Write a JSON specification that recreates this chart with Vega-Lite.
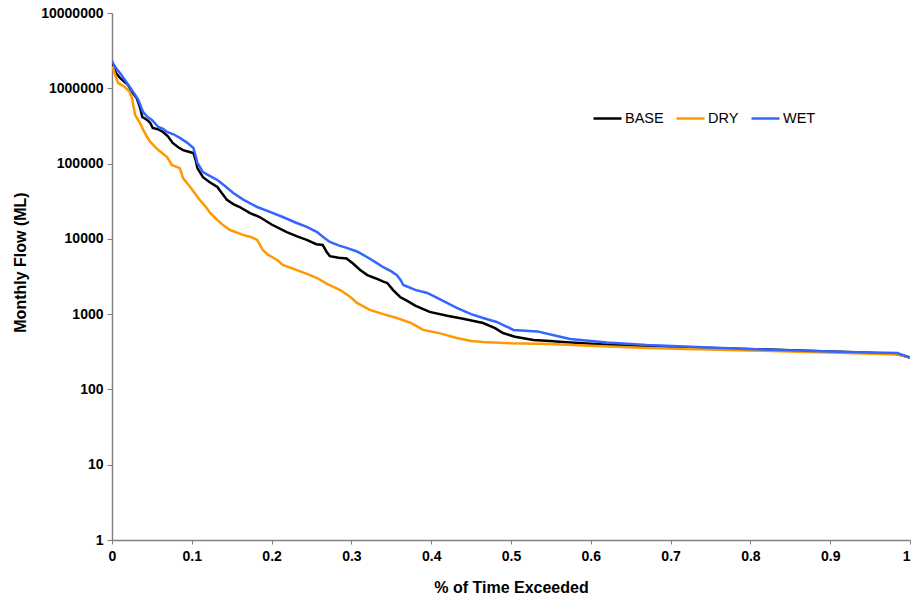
{
  "$schema": "https://vega.github.io/schema/vega-lite/v6.json",
  "width": 798,
  "height": 527,
  "autosize": "none",
  "padding": {"left": 112, "top": 13, "right": 3, "bottom": 62},
  "background": "white",
  "config": {
    "view": {"stroke": null},
    "font": "Liberation Sans",
    "axis": {
      "grid": false,
      "domainColor": "#808080",
      "tickColor": "#808080",
      "domainWidth": 1.5,
      "labelFont": "Liberation Sans",
      "labelFontWeight": "bold",
      "labelFontSize": 14,
      "labelColor": "#000000",
      "titleFont": "Liberation Sans",
      "titleFontWeight": "bold",
      "titleFontSize": 16,
      "titleColor": "#000000"
    }
  },
  "data": {
    "values": [
      {"s":"BASE","x":0,"y":2200000},{"s":"BASE","x":0.001,"y":2040000},{"s":"BASE","x":0.005,"y":1600000},{"s":"BASE","x":0.01,"y":1370000},{"s":"BASE","x":0.02,"y":1110000},{"s":"BASE","x":0.025,"y":900000},{"s":"BASE","x":0.031,"y":740000},{"s":"BASE","x":0.035,"y":560000},{"s":"BASE","x":0.038,"y":416000},{"s":"BASE","x":0.044,"y":380000},{"s":"BASE","x":0.048,"y":346000},{"s":"BASE","x":0.051,"y":297000},{"s":"BASE","x":0.058,"y":285000},{"s":"BASE","x":0.064,"y":263000},{"s":"BASE","x":0.07,"y":230000},{"s":"BASE","x":0.076,"y":188000},{"s":"BASE","x":0.083,"y":165000},{"s":"BASE","x":0.089,"y":151000},{"s":"BASE","x":0.095,"y":145000},{"s":"BASE","x":0.102,"y":138000},{"s":"BASE","x":0.105,"y":110000},{"s":"BASE","x":0.107,"y":87000},{"s":"BASE","x":0.114,"y":66000},{"s":"BASE","x":0.122,"y":57000},{"s":"BASE","x":0.132,"y":49000},{"s":"BASE","x":0.138,"y":40000},{"s":"BASE","x":0.144,"y":33000},{"s":"BASE","x":0.152,"y":29000},{"s":"BASE","x":0.16,"y":26500},{"s":"BASE","x":0.173,"y":22000},{"s":"BASE","x":0.185,"y":19500},{"s":"BASE","x":0.2,"y":15500},{"s":"BASE","x":0.219,"y":12300},{"s":"BASE","x":0.232,"y":10800},{"s":"BASE","x":0.244,"y":9700},{"s":"BASE","x":0.256,"y":8500},{"s":"BASE","x":0.264,"y":8300},{"s":"BASE","x":0.269,"y":6700},{"s":"BASE","x":0.273,"y":5900},{"s":"BASE","x":0.284,"y":5600},{"s":"BASE","x":0.294,"y":5500},{"s":"BASE","x":0.302,"y":4700},{"s":"BASE","x":0.311,"y":3860},{"s":"BASE","x":0.32,"y":3300},{"s":"BASE","x":0.33,"y":3000},{"s":"BASE","x":0.34,"y":2700},{"s":"BASE","x":0.345,"y":2590},{"s":"BASE","x":0.352,"y":2100},{"s":"BASE","x":0.361,"y":1690},{"s":"BASE","x":0.37,"y":1500},{"s":"BASE","x":0.38,"y":1300},{"s":"BASE","x":0.398,"y":1070},{"s":"BASE","x":0.42,"y":950},{"s":"BASE","x":0.44,"y":870},{"s":"BASE","x":0.465,"y":763},{"s":"BASE","x":0.48,"y":650},{"s":"BASE","x":0.49,"y":562},{"s":"BASE","x":0.505,"y":500},{"s":"BASE","x":0.528,"y":454},{"s":"BASE","x":0.549,"y":441},{"s":"BASE","x":0.565,"y":427},{"s":"BASE","x":0.6,"y":405},{"s":"BASE","x":0.628,"y":389},{"s":"BASE","x":0.7,"y":365},{"s":"BASE","x":0.796,"y":345},{"s":"BASE","x":0.86,"y":330},{"s":"BASE","x":0.921,"y":314},{"s":"BASE","x":0.984,"y":296},{"s":"BASE","x":1,"y":265},
      {"s":"DRY","x":0,"y":1950000},{"s":"DRY","x":0.001,"y":1920000},{"s":"DRY","x":0.004,"y":1500000},{"s":"DRY","x":0.0075,"y":1180000},{"s":"DRY","x":0.016,"y":1040000},{"s":"DRY","x":0.022,"y":900000},{"s":"DRY","x":0.025,"y":740000},{"s":"DRY","x":0.029,"y":442000},{"s":"DRY","x":0.035,"y":346000},{"s":"DRY","x":0.04,"y":270000},{"s":"DRY","x":0.044,"y":225000},{"s":"DRY","x":0.048,"y":194000},{"s":"DRY","x":0.058,"y":151000},{"s":"DRY","x":0.064,"y":135000},{"s":"DRY","x":0.069,"y":122000},{"s":"DRY","x":0.075,"y":96000},{"s":"DRY","x":0.085,"y":87000},{"s":"DRY","x":0.089,"y":64000},{"s":"DRY","x":0.098,"y":49000},{"s":"DRY","x":0.11,"y":32800},{"s":"DRY","x":0.117,"y":27000},{"s":"DRY","x":0.123,"y":22100},{"s":"DRY","x":0.132,"y":17800},{"s":"DRY","x":0.14,"y":15000},{"s":"DRY","x":0.148,"y":13100},{"s":"DRY","x":0.164,"y":11300},{"s":"DRY","x":0.175,"y":10500},{"s":"DRY","x":0.182,"y":9700},{"s":"DRY","x":0.189,"y":7100},{"s":"DRY","x":0.195,"y":6200},{"s":"DRY","x":0.207,"y":5240},{"s":"DRY","x":0.214,"y":4500},{"s":"DRY","x":0.23,"y":3900},{"s":"DRY","x":0.245,"y":3400},{"s":"DRY","x":0.257,"y":3020},{"s":"DRY","x":0.27,"y":2500},{"s":"DRY","x":0.286,"y":2090},{"s":"DRY","x":0.3,"y":1650},{"s":"DRY","x":0.307,"y":1410},{"s":"DRY","x":0.323,"y":1140},{"s":"DRY","x":0.34,"y":1000},{"s":"DRY","x":0.357,"y":889},{"s":"DRY","x":0.375,"y":760},{"s":"DRY","x":0.39,"y":617},{"s":"DRY","x":0.41,"y":560},{"s":"DRY","x":0.432,"y":482},{"s":"DRY","x":0.45,"y":440},{"s":"DRY","x":0.465,"y":427},{"s":"DRY","x":0.5,"y":410},{"s":"DRY","x":0.549,"y":402},{"s":"DRY","x":0.6,"y":380},{"s":"DRY","x":0.67,"y":356},{"s":"DRY","x":0.796,"y":330},{"s":"DRY","x":0.921,"y":305},{"s":"DRY","x":0.984,"y":290},{"s":"DRY","x":1,"y":265},
      {"s":"WET","x":0,"y":2300000},{"s":"WET","x":0.001,"y":2170000},{"s":"WET","x":0.005,"y":1850000},{"s":"WET","x":0.01,"y":1600000},{"s":"WET","x":0.016,"y":1300000},{"s":"WET","x":0.023,"y":1010000},{"s":"WET","x":0.028,"y":850000},{"s":"WET","x":0.033,"y":698000},{"s":"WET","x":0.039,"y":484000},{"s":"WET","x":0.044,"y":420000},{"s":"WET","x":0.05,"y":379000},{"s":"WET","x":0.058,"y":306000},{"s":"WET","x":0.064,"y":290000},{"s":"WET","x":0.069,"y":263000},{"s":"WET","x":0.077,"y":245000},{"s":"WET","x":0.085,"y":219000},{"s":"WET","x":0.094,"y":190000},{"s":"WET","x":0.102,"y":161000},{"s":"WET","x":0.105,"y":125000},{"s":"WET","x":0.107,"y":102000},{"s":"WET","x":0.114,"y":77000},{"s":"WET","x":0.123,"y":68000},{"s":"WET","x":0.132,"y":60500},{"s":"WET","x":0.142,"y":50000},{"s":"WET","x":0.152,"y":40600},{"s":"WET","x":0.165,"y":33000},{"s":"WET","x":0.182,"y":26500},{"s":"WET","x":0.197,"y":23000},{"s":"WET","x":0.214,"y":19500},{"s":"WET","x":0.23,"y":16500},{"s":"WET","x":0.244,"y":14400},{"s":"WET","x":0.257,"y":12300},{"s":"WET","x":0.265,"y":10500},{"s":"WET","x":0.273,"y":9100},{"s":"WET","x":0.284,"y":8200},{"s":"WET","x":0.294,"y":7600},{"s":"WET","x":0.307,"y":6800},{"s":"WET","x":0.32,"y":5700},{"s":"WET","x":0.33,"y":4900},{"s":"WET","x":0.34,"y":4200},{"s":"WET","x":0.35,"y":3700},{"s":"WET","x":0.357,"y":3300},{"s":"WET","x":0.362,"y":2800},{"s":"WET","x":0.365,"y":2440},{"s":"WET","x":0.38,"y":2100},{"s":"WET","x":0.395,"y":1910},{"s":"WET","x":0.41,"y":1600},{"s":"WET","x":0.432,"y":1210},{"s":"WET","x":0.45,"y":1000},{"s":"WET","x":0.465,"y":889},{"s":"WET","x":0.482,"y":787},{"s":"WET","x":0.495,"y":680},{"s":"WET","x":0.503,"y":617},{"s":"WET","x":0.533,"y":590},{"s":"WET","x":0.555,"y":520},{"s":"WET","x":0.574,"y":468},{"s":"WET","x":0.62,"y":420},{"s":"WET","x":0.67,"y":389},{"s":"WET","x":0.796,"y":345},{"s":"WET","x":0.921,"y":314},{"s":"WET","x":0.984,"y":305},{"s":"WET","x":1,"y":265}
    ]
  },
  "mark": {"type": "line", "strokeWidth": 2.5, "clip": true},
  "encoding": {
    "x": {
      "field": "x", "type": "quantitative",
      "scale": {"domain": [0, 1], "nice": false, "zero": false},
      "axis": {
        "title": "% of Time Exceeded",
        "values": [0, 0.1, 0.2, 0.3, 0.4, 0.5, 0.6, 0.7, 0.8, 0.9, 1],
        "format": "~g",
        "tickSize": 4,
        "labelPadding": 5,
        "titlePadding": 16,
        "labelFlush": false,
        "labelAlign": {"expr": "datum.value === 1 ? 'right' : 'center'"},
        "labelOverlap": false
      }
    },
    "y": {
      "field": "y", "type": "quantitative",
      "scale": {"type": "log", "domain": [1, 10000000], "nice": false},
      "axis": {
        "title": "Monthly Flow (ML)",
        "values": [1, 10, 100, 1000, 10000, 100000, 1000000, 10000000],
        "format": "d",
        "tickSize": 5,
        "labelPadding": 4,
        "titlePadding": 12,
        "titleY": 249,
        "labelFlush": false,
        "labelOverlap": false
      }
    },
    "color": {
      "field": "s", "type": "nominal",
      "scale": {"domain": ["BASE", "DRY", "WET"], "range": ["#000000", "#FF9900", "#3366FF"]},
      "legend": {
        "title": null,
        "orient": "none",
        "legendX": 480,
        "legendY": 90,
        "direction": "horizontal",
        "symbolType": "stroke",
        "symbolSize": 784,
        "symbolStrokeWidth": 2.5,
        "labelFont": "Liberation Sans",
        "labelFontSize": 14.5,
        "labelColor": "#000000",
        "labelOffset": 2,
        "columnPadding": 7
      }
    },
    "order": {"field": "x", "type": "quantitative"}
  }
}
